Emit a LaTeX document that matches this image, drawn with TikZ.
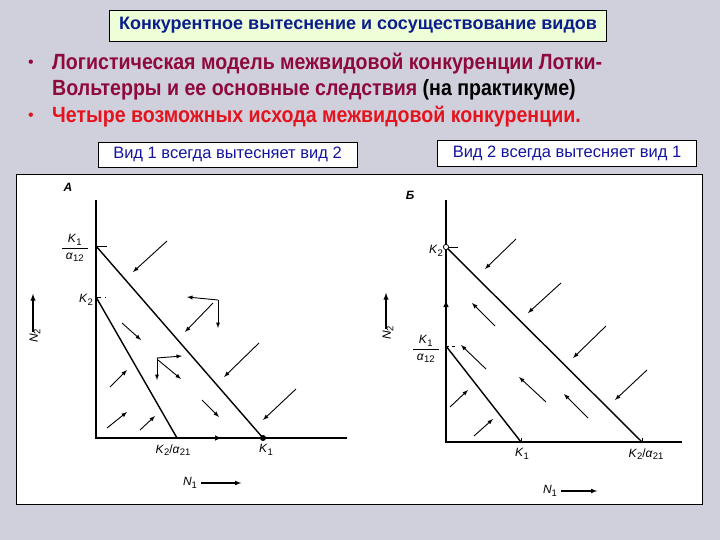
\documentclass[tikz,border=0pt]{standalone}
\usepackage{fontspec}
\setmainfont{Liberation Sans}
\newfontfamily\narrowfont[FakeStretch=0.89]{Liberation Sans}

\definecolor{slidebg}{HTML}{D0CFDC}
\definecolor{titlefill}{HTML}{EEFFD8}
\definecolor{titleblue}{HTML}{0A1E8C}
\definecolor{wine}{HTML}{8E0A3C}
\definecolor{brightred}{HTML}{E4141E}
\definecolor{labelblue}{HTML}{14149E}

% labels of the phase planes
\newcommand{\Kn}[1]{\textit{K}\raisebox{-2.5pt}{\fontsize{9.5}{10}\selectfont #1}}
\newcommand{\an}[1]{\textit{α}\raisebox{-2.5pt}{\fontsize{9.5}{10}\selectfont #1}}
\newcommand{\Nn}[1]{\textit{N}\raisebox{-2.5pt}{\fontsize{9.5}{10}\selectfont #1}}
\newcommand{\Kfrac}{$\displaystyle\frac{\mbox{\Kn{1}}}{\mbox{\hspace{4pt}\an{12}\hspace{4pt}}}$}

\tikzset{
	titlebox/.style={draw=black,fill=titlefill,thick,minimum width=497pt,minimum height=31pt,
		text=titleblue,font=\fontsize{18}{20}\selectfont\bfseries},
	labelbox/.style={draw=black,fill=white,thick,minimum width=259pt,minimum height=25pt,
		text=labelblue,font=\fontsize{16.5}{18}\selectfont},
	bullettext/.style={anchor=west,font=\narrowfont\fontsize{22}{24}\selectfont\bfseries},
	axis/.style={line width=1.4pt},
	vec/.style={line width=0.9pt,-latex},
	lbl/.style={font=\fontsize{12}{14}\selectfont}
}

\begin{document}
\begin{tikzpicture}[x=1pt,y=-1pt,every node/.style={inner sep=0pt}]
	% slide background
	\fill[slidebg] (0,0) rectangle (720,540);
	
	% heading
	\node[titlebox] (title) at (358,25.5) {Конкурентное вытеснение и сосуществование видов};
	
	% bullet list
	\node[text=wine,font=\fontsize{16}{18}\selectfont] (dot1) at (31,64) {\textbullet};
	\node[bullettext,text=wine] (line1) at (52,64) {Логистическая модель межвидовой конкуренции Лотки-};
	\node[bullettext,text=wine] (line2) at (52,90) {Вольтерры и ее основные следствия {\color{black}(на практикуме)}};
	\node[text=brightred,font=\fontsize{16}{18}\selectfont] (dot2) at (31,117) {\textbullet};
	\node[bullettext,text=brightred] (line3) at (52,117) {Четыре возможных исхода межвидовой конкуренции.};
	
	% captions of the two cases
	\node[labelbox] (capA) at (227.5,154.5) {Вид 1 всегда вытесняет вид 2};
	\node[labelbox,minimum height=26pt] (capB) at (567,153) {Вид 2 всегда вытесняет вид 1};
	
	% white panel with the two phase planes
	\draw[thick,fill=white] (16,174) rectangle (702,504);
	
	%---------------- case A ----------------
	\coordinate (Ao) at (96,438);
	\coordinate (Atop) at (96,200);
	\coordinate (Aend) at (347,438);
	\coordinate (AKa) at (96,246);% K1/alpha12
	\coordinate (AK2) at (96,297);% K2
	\coordinate (AKb) at (177,438);% K2/alpha21
	\coordinate (AK1) at (263,438);% K1
	\draw[axis] (Atop) -- (Ao) -- (Aend);
	\draw[axis,-latex] (Ao) -- (222,438);
	\draw[axis] (AKa) -- (AK1);
	\draw[axis] (AK2) -- (AKb);
	\draw[thick] (AKa) -- ++(11,0);
	\draw[thick,dash pattern=on 5pt off 4pt on 1pt off 9pt] (AK2) -- ++(18,0);
	\fill (AK1) circle (3pt);
	
	\node[lbl,font=\fontsize{12}{14}\selectfont\bfseries\itshape] (Aname) at (68,187) {A};
	\node[lbl,anchor=east] (AKaLbl) at (89,248) {\Kfrac};
	\node[lbl,anchor=east] (AK2Lbl) at (93,300) {\Kn{2}};
	\node[lbl] (AKbLbl) at (173,450) {\Kn{2}/\an{21}};
	\node[lbl] (AK1Lbl) at (266,450) {\Kn{1}};
	\node[lbl,rotate=90] (An2) at (35,336) {\Nn{2}};
	\draw[line width=1.3pt,-latex] ([yshift=-3pt,xshift=-2pt]An2.east) -- ++(0,-38);
	\node[lbl] (An1) at (190,483) {\Nn{1}};
	\draw[line width=1.1pt,-latex] ([xshift=4pt]An1.east) -- ++(40,0);
	
	% vectors of case A
	\foreach \sx/\sy/\ex/\ey in {167/241/133/272, 218/300/187/297, 218/300/218/328, 213/303/185/332,
		122/323/141/340, 157/358/182/356, 157/358/157/380, 158/360/181/379, 259/343/224/377,
		110/387/127/370, 107/428/127/412, 140/430/155/416, 202/400/219/417, 296/389/263/420}{
		\draw[vec] (\sx,\sy) -- (\ex,\ey);
	}
	
	%---------------- case B ----------------
	\coordinate (Bo) at (446,442);
	\coordinate (Btop) at (446,200);
	\coordinate (Bend) at (682,442);
	\coordinate (BK2) at (446,247);% K2
	\coordinate (BKa) at (446,346);% K1/alpha12
	\coordinate (BK1) at (521,442);% K1
	\coordinate (BKb) at (642,442);% K2/alpha21
	\draw[axis] (Btop) -- (Bo) -- (Bend);
	\draw[axis,-latex] (Bo) -- (446,300);
	\draw[axis] (BK2) -- (BKb);
	\draw[axis] (BKa) -- (BK1);
	\draw[thick] (BK2) -- ++(12,0);
	\draw[thick,dashed] (BKa) -- ++(12,0);
	\draw[thick] (BK1) -- ++(0,-4);
	\draw[thick] (BKb) -- ++(0,-4);
	\draw[thick,fill=white] (BK2) circle (2.6pt);
	
	\node[lbl,font=\fontsize{12}{14}\selectfont\bfseries\itshape] (Bname) at (410,195) {Б};
	\node[lbl,anchor=east] (BK2Lbl) at (443,251) {\Kn{2}};
	\node[lbl,anchor=east] (BKaLbl) at (440,349) {\Kfrac};
	\node[lbl] (BK1Lbl) at (522,454) {\Kn{1}};
	\node[lbl] (BKbLbl) at (646,454) {\Kn{2}/\an{21}};
	\node[lbl,rotate=90] (Bn2) at (388,333) {\Nn{2}};
	\draw[line width=1.3pt,-latex] ([yshift=-3pt,xshift=-2pt]Bn2.east) -- ++(0,-36);
	\node[lbl] (Bn1) at (550,491) {\Nn{1}};
	\draw[line width=1.1pt,-latex] ([xshift=4pt]Bn1.east) -- ++(36,0);
	
	% vectors of case B
	\foreach \sx/\sy/\ex/\ey in {516/239/485/269, 561/283/528/313, 606/326/573/358, 647/370/615/400,
		495/326/472/303, 486/369/461/345, 546/402/519/377, 588/418/564/394,
		450/407/468/390, 474/436/493/419}{
		\draw[vec] (\sx,\sy) -- (\ex,\ey);
	}
\end{tikzpicture}
\end{document}
